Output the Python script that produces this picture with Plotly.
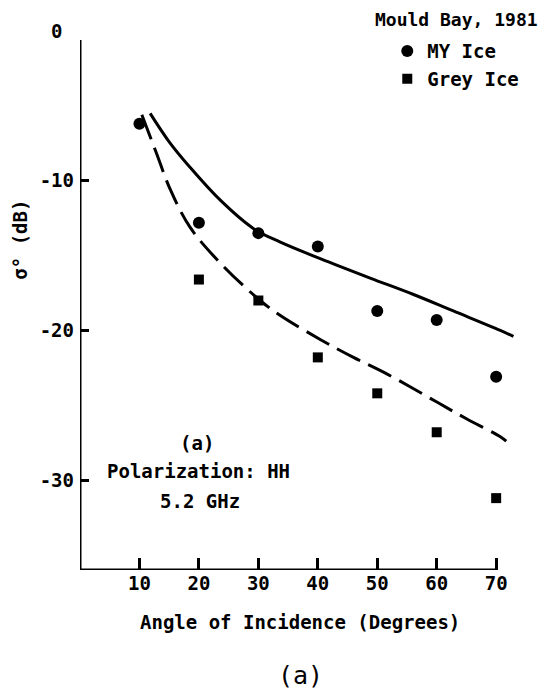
import plotly.graph_objects as go

# measured points
angles = [10, 20, 30, 40, 50, 60, 70]
my_ice = [-6.2, -12.8, -13.5, -14.4, -18.7, -19.3, -23.1]
grey_angles = [20, 30, 40, 50, 60, 70]
grey_ice = [-16.6, -18.0, -21.8, -24.2, -26.8, -31.2]

# fitted curves
my_fit_x = [11.8, 15, 18.5, 23.6, 29.2, 33.7, 40.4, 48.8, 56.1, 62.8, 70.7, 72.9]
my_fit_y = [-5.5, -7.4, -9.1, -11.3, -13.2, -14.1, -15.2, -16.5, -17.6, -18.7,
            -20.0, -20.4]
grey_fit_x = [10.4, 12.8, 15.2, 18.5, 23.6, 30.3, 33.7, 40.4, 46, 51.6, 60.1,
              65, 70.7, 71.7]
grey_fit_y = [-5.6, -8.1, -10.6, -13.1, -15.5, -18.0, -19.0, -20.6, -21.8,
              -22.9, -24.8, -25.9, -27.1, -27.4]

y_ticks = [0, -10, -20, -30]
y_labels = ['0\u00a0', '-10', '-20', '-30']
x_ticks = [10, 20, 30, 40, 50, 60, 70]

FONT = 'DejaVu Sans Mono'
font = dict(family=FONT, size=19, color='black', weight='bold')

fig = go.Figure()
fig.add_trace(go.Scatter(x=my_fit_x, y=my_fit_y, mode='lines', showlegend=False,
                         line=dict(color='black', width=3, shape='spline'),
                         hoverinfo='skip'))
fig.add_trace(go.Scatter(x=grey_fit_x, y=grey_fit_y, mode='lines', showlegend=False,
                         line=dict(color='black', width=3, dash='26px,9px',
                                   shape='spline'),
                         hoverinfo='skip'))
fig.add_trace(go.Scatter(x=angles, y=my_ice, mode='markers', name='MY Ice',
                         legendgroup='my',
                         marker=dict(symbol='circle', size=12, color='black')))
fig.add_trace(go.Scatter(x=grey_angles, y=grey_ice, mode='markers', name='Grey Ice',
                         legendgroup='grey',
                         marker=dict(symbol='square', size=10, color='black')))

# axis lines (x axis stops at 70)
fig.add_shape(type='line', xref='x', yref='y', x0=0, x1=70, y0=-36, y1=-36,
              line=dict(color='black', width=3))
fig.add_shape(type='line', xref='x', yref='y', x0=0, x1=0, y0=-36, y1=-0.6,
              line=dict(color='black', width=3))

annots = [
    dict(x=19.6, y=-27.5, xref='x', yref='y', text='(a)'),
    dict(x=19.95, y=-29.4, xref='x', yref='y', text='Polarization: HH'),
    dict(x=20.2, y=-31.4, xref='x', yref='y', text='5.2 GHz'),
    dict(x=0.507, y=-0.096, xref='paper', yref='paper',
         text='Angle of Incidence (Degrees)'),
    dict(x=0.507, y=-0.195, xref='paper', yref='paper', text='(a)',
         font=dict(family=FONT, size=25, color='black', weight='normal')),
    dict(x=0.868, y=1.022, xref='paper', yref='paper', text='Mould Bay, 1981',
         font=dict(family=FONT, size=18, color='black', weight='bold')),
    dict(x=-0.137, y=0.612, xref='paper', yref='paper', text='σ° (dB)',
         textangle=-90),
]
for a in annots:
    a.setdefault('font', font)
    fig.add_annotation(showarrow=False, xanchor='center', yanchor='middle', **a)

fig.update_layout(
    width=553, height=690,
    margin=dict(l=72, r=47, t=23, b=128),
    paper_bgcolor='white', plot_bgcolor='white',
    font=font,
    legend=dict(x=0.708, y=0.998, xanchor='left', yanchor='top',
                bgcolor='rgba(0,0,0,0)', font=font, itemwidth=30,
                traceorder='grouped', tracegroupgap=0),
)
fig.update_xaxes(range=[0, 73], tickvals=x_ticks, ticks='inside', ticklen=12,
                 tickwidth=2.5, tickcolor='black', showgrid=False, zeroline=False,
                 showline=False, tickfont=font)
fig.update_yaxes(range=[-36, 0], tickvals=y_ticks, ticktext=y_labels,
                 ticks='inside', ticklen=9, tickwidth=2.5, tickcolor='black',
                 showgrid=False, zeroline=False, showline=False, tickfont=font,
                 ticklabelstandoff=5)

fig.write_html('out.html')
